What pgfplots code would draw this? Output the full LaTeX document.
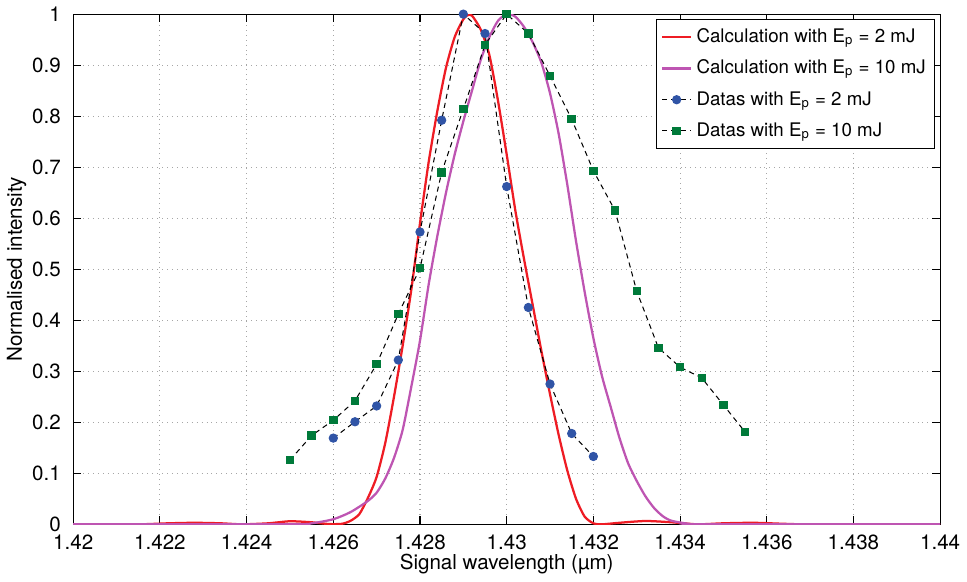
\documentclass[border=0pt]{standalone}
\usepackage{pgfplots}
\pgfplotsset{compat=1.18}
\usepackage{fontspec}
\setmainfont{TeX Gyre Heros}
\definecolor{calcred}{RGB}{238,28,36}
\definecolor{calcpurple}{RGB}{190,85,178}
\definecolor{datablue}{RGB}{48,84,166}
\definecolor{datagreen}{RGB}{0,122,58}
\begin{document}
\fontsize{10}{12}\selectfont
\begin{tikzpicture}
\begin{axis}[
  width=421.4pt, height=248pt, scale only axis,
  xmin=1.42, xmax=1.44, ymin=0, ymax=1,
  xtick={1.42,1.422,...,1.4401},
  ytick={0,0.1,...,1.01},
  scaled x ticks=false,
  xticklabel style={/pgf/number format/fixed,/pgf/number format/precision=3, yshift=-1.5pt},
  yticklabel style={/pgf/number format/fixed,/pgf/number format/precision=1, xshift=-2.5pt},
  /pgf/number format/assume math mode=true,
  tick align=inside,
  major tick length=4pt,
  tick style={black, line width=0.5pt},
  axis line style={black, line width=0.6pt},
  grid=major,
  major grid style={gray!70, dotted, line width=0.5pt},
  xlabel={Signal wavelength (µm)},
  ylabel={Normalised intensity},
  xlabel style={yshift=4.5pt},
  ylabel style={yshift=-4pt},
  legend cell align=left,
  legend image code/.code={\draw[mark repeat=2,mark phase=2,#1] plot coordinates {(0cm,0cm) (0.25cm,0cm) (0.5cm,0cm)};},
  legend style={at={(1,1)}, anchor=north east, xshift=-2.4pt, yshift=-2.4pt,
     draw=black, line width=0.5pt, row sep=3pt, font=\fontsize{9.1}{11}\selectfont,
     inner sep=2.3pt},
]
\addplot[calcred, line width=1.1pt, smooth, tension=0.4] coordinates {
(1.4200,0) (1.4215,0) (1.4222,0.002) (1.4228,0.003) (1.4234,0.002) (1.4239,0)
(1.4245,0.002) (1.4250,0.006) (1.4255,0.004) (1.4259,0.0005) (1.4262,0.001)
(1.4264,0.007) (1.4266,0.02) (1.4268,0.052) (1.4270,0.093) (1.4272,0.16) (1.4274,0.25)
(1.4276,0.35) (1.4278,0.46) (1.4280,0.59) (1.4282,0.71) (1.4284,0.81) (1.4286,0.895)
(1.4288,0.955) (1.4290,0.99) (1.4291,0.998) (1.4292,0.997) (1.4294,0.97)
(1.4296,0.92) (1.4298,0.83) (1.4300,0.725) (1.4302,0.615) (1.4304,0.52)
(1.4306,0.43) (1.4308,0.34) (1.4310,0.255) (1.4312,0.175) (1.4314,0.105)
(1.4316,0.05) (1.4318,0.015) (1.4320,0.002) (1.4322,0) (1.4326,0.003)
(1.4332,0.0065) (1.4338,0.004) (1.4344,0) (1.4350,0.002) (1.4357,0.003)
(1.4364,0.001) (1.4370,0) (1.4400,0)
};
\addlegendentry{Calculation with E\textsubscript{p} = 2 mJ}
\addplot[calcpurple, line width=1.1pt, smooth, tension=0.4] coordinates {
(1.4200,0) (1.4250,0) (1.4255,0.002) (1.4260,0.01) (1.4264,0.024) (1.4268,0.046)
(1.4270,0.062) (1.4272,0.09) (1.4274,0.13) (1.4276,0.185) (1.4278,0.27)
(1.4280,0.36) (1.4282,0.47) (1.4284,0.565) (1.4286,0.65) (1.4288,0.725)
(1.4290,0.79) (1.4292,0.85) (1.4294,0.91) (1.4296,0.955) (1.4298,0.987)
(1.4300,1.0) (1.4302,0.995) (1.4304,0.975) (1.4306,0.945) (1.4308,0.905)
(1.4310,0.845) (1.4312,0.765) (1.4314,0.665) (1.4316,0.555) (1.4318,0.455)
(1.4320,0.365) (1.4322,0.29) (1.4324,0.23) (1.4326,0.17) (1.4328,0.12)
(1.4330,0.085) (1.4332,0.055) (1.4334,0.032) (1.4336,0.016) (1.4338,0.007)
(1.4342,0.001) (1.4346,0) (1.4400,0)
};
\addlegendentry{Calculation with E\textsubscript{p} = 10 mJ}
\addplot[black, line width=0.5pt, dash pattern=on 2.5pt off 2pt,
   mark=*, mark size=2pt, mark options={solid, fill=datablue, draw=datablue}] coordinates {
(1.4260,0.169) (1.4265,0.201) (1.4270,0.232) (1.4275,0.322) (1.4280,0.573)
(1.4285,0.792) (1.4290,1.0) (1.4295,0.962) (1.4300,0.662) (1.4305,0.425)
(1.4310,0.275) (1.4315,0.178) (1.4320,0.133)
};
\addlegendentry{Datas with E\textsubscript{p} = 2 mJ}
\addplot[black, line width=0.5pt, dash pattern=on 2.5pt off 2pt,
   mark=square*, mark size=1.8pt, mark options={solid, fill=datagreen, draw=datagreen}] coordinates {
(1.4250,0.126) (1.4255,0.174) (1.4260,0.204) (1.4265,0.242) (1.4270,0.314)
(1.4275,0.412) (1.4280,0.502) (1.4285,0.690) (1.4290,0.814) (1.4295,0.940)
(1.4300,1.0) (1.4305,0.962) (1.4310,0.879) (1.4315,0.794) (1.4320,0.693)
(1.4325,0.615) (1.4330,0.457) (1.4335,0.346) (1.4340,0.308) (1.4345,0.287)
(1.4350,0.234) (1.4355,0.181)
};
\addlegendentry{Datas with E\textsubscript{p} = 10 mJ}
\end{axis}
\end{tikzpicture}
\end{document}
